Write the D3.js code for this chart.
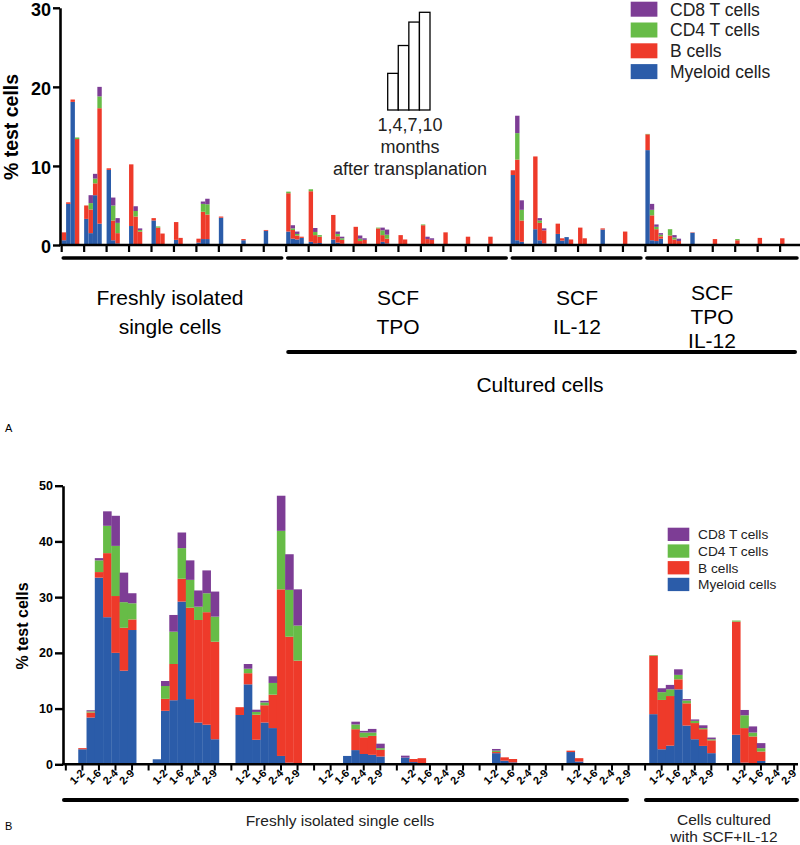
<!DOCTYPE html>
<html><head><meta charset="utf-8">
<script src="https://cdn.jsdelivr.net/npm/d3@7"></script>
<style>body{margin:0;background:#fff}svg{display:block;font-family:"Liberation Sans",Arial,sans-serif}</style>
</head><body><svg id="c" width="800" height="845"></svg>
<script>
// ---------- shared ----------
const seriesNames = ["Myeloid cells","B cells","CD4 T cells","CD8 T cells"];
const seriesColors = ["#2b5ca9","#ee3a2a","#67bc47","#7d3d95"];

// ---------- Panel A : 33 groups x 4 time points ----------
const monthsA = ["1","4","7","10"];
const conditionsA = [
  {lines:["Freshly isolated","single cells"], from:0, to:9, cx:170, top:305, gap:28.5},
  {lines:["SCF","TPO"], from:10, to:19, cx:398, top:305, gap:28.5},
  {lines:["SCF","IL-12"], from:20, to:25, cx:577, top:305, gap:28.5},
  {lines:["SCF","TPO","IL-12"], from:26, to:32, cx:712, top:300, gap:24}
];
const aMyeloid = [
 [0.6,5.2,18.1,0],[3.3,1.5,6.3,2.7],[9.5,0.6,0.2,0],[2.4,0,0,0],[3.1,0,0,0],[0.65,0,0,0],[0.3,0.75,0.75,0],[3.45,0,0,0],[0.6,0,0,0],[1.8,0,0,0],
 [1.7,0.8,0.7,0.9],[0.4,0.2,0.25,0],[0.7,0.3,0.15,0],[0.1,0,0.15,0],[0,0.4,0.2,0],[0,0,0,0],[0,0.15,0,0],[0,0,0,0],[0,0,0,0],[0,0,0,0],
 [8.85,0.6,0.4,0],[2.0,0.6,0.2,0],[1.4,0.55,1.0,0],[0,0,0,0],[1.95,0,0,0],[0,0,0,0],
 [12.0,0.6,0.5,0.8],[0,0,0,0],[1.55,0,0,0],[0,0,0,0],[0,0,0,0],[0,0,0,0],[0,0,0,0]];
const aBcells = [
 [1.0,0.2,0.3,13.4],[1.7,3.0,1.5,14.6],[0.2,2.5,1.3,0],[7.8,3.6,1.7,0],[0.3,2.2,1.45,0],[2.25,0.9,0,0],[0.5,3.45,3.1,0],[0.15,0,0,0],[0.15,0,0,0],[0.1,0,0,0],
 [4.85,1.1,0.5,0.15],[6.4,1.05,0.8,0],[3.1,0.8,0.5,0],[2.2,0.5,0.5,0],[2.1,0.85,0.6,0],[1.25,0.7,0,0],[2.5,0.6,0.65,0],[1.6,0,0,0],[1.05,0,0,0],[1.05,0,0,0],
 [0.6,10.2,2.7,0],[9.2,2.2,1.65,0],[1.3,0.3,0,0.7],[2.2,0.85,0,0],[0.15,0,0,0],[1.7,0,0,0],
 [2.0,3.15,1.5,0.3],[1.2,0.7,0.5,0],[0.05,0,0,0],[0.75,0,0,0],[0.6,0,0,0],[0.9,0,0,0],[0.85,0,0,0]];
const aCD4 = [
 [0,0,0,0.2],[0,0.8,0.6,1.5],[0,1.9,1.3,0],[0,0.7,0.2,0],[0,0.15,0,0],[0,0,0,0],[0,1.0,1.3,0],[0,0,0,0],[0,0,0,0],[0,0,0,0],
 [0.2,0.2,0.2,0],[0.25,0.4,0.2,0],[0,0.3,0.2,0],[0,0.3,0,0],[0.1,0.6,0.5,0],[0,0,0,0],[0.1,0,0,0],[0,0,0,0],[0,0,0,0],[0,0,0,0],
 [0,3.35,1.35,0],[0,0.3,0,0],[0,0,0,0],[0,0,0,0],[0,0,0,0],[0,0,0,0],
 [0.05,0.7,0.3,0.2],[0.8,0.25,0,0],[0,0,0,0],[0,0,0,0],[0.15,0,0,0],[0,0,0,0],[0,0,0,0]];
const aCD8 = [
 [0,0,0,0],[0,1.0,0.6,1.2],[0,1.0,0.6,0],[0,0.6,0.2,0],[0,0,0,0],[0,0,0,0],[0,0.3,0.7,0],[0,0,0,0],[0,0,0,0],[0,0,0,0],
 [0,0.4,0.3,0],[0,0.5,0,0],[0,0.3,0.2,0],[0,0.4,0.2,0],[0,0.35,0.65,0],[0,0,0,0],[0,0.3,0.2,0],[0,0,0,0],[0,0,0,0],[0,0,0,0],
 [0,2.2,1.2,0],[0,0.3,0.25,0],[0,0,0,0],[0,0,0,0],[0,0,0,0],[0,0,0,0],
 [0,0.75,0.3,0.2],[0,0.3,0.3,0],[0,0,0,0],[0,0,0,0],[0,0,0,0],[0,0,0,0],[0,0,0,0]];
const yTicksA = [0,10,20,30];

// ---------- Panel B : 9 groups x 8 bars ----------
const pairLabelsB = ["1-2","1-6","2-4","2-9"];
const bMyeloid = [
 [0,2.7,8.4,33.5,26.4,20.0,16.8,24.1],
 [0.9,9.6,11.5,29.2,11.7,7.5,7.1,4.5],
 [8.85,14.35,4.4,7.5,6.5,1.5,0.3,0.2],
 [0,0,0,1.5,2.55,1.85,1.7,1.4],
 [1.2,0.4,0.2,0,0,0,0,0],
 [0,2.0,0.65,0.35,0,0,0,0],
 [2.2,0.5,0,0,0,0,0,0],
 [9.0,2.7,3.35,13.45,6.95,4.5,3.3,2.0],
 [5.3,0.3,0.2,0.6,0,0,0,0]];
const bBcells = [
 [0,0.2,0.9,1.0,11.5,10.2,7.7,1.9],
 [0,2.15,6.5,4.1,16.4,18.4,20.2,17.5],
 [1.4,2.0,4.5,3.1,6.0,29.9,22.6,18.4],
 [0,0,0,0,3.75,3.0,3.4,1.2],
 [0,0.55,0.9,0,0,0,0,0],
 [0,0.2,0.6,0.6,0,0,0,0],
 [0.25,0.6,0,0,0,0,0,0],
 [10.5,8.85,8.9,1.8,4.0,2.9,3.0,2.3],
 [20.3,6.2,4.8,1.7,0,0,0,0]];
const bCD4 = [
 [0,0,0.2,2.1,4.9,9.0,4.6,2.9],
 [0,2.3,5.8,5.5,5.0,2.4,3.4,4.5],
 [0,0.8,0.5,0.5,2.1,10.5,8.4,6.3],
 [0,0,0,0,0.85,0.85,0.6,0.3],
 [0,0,0,0,0,0,0,0],
 [0,0.25,0,0,0,0,0,0],
 [0,0,0,0,0,0,0,0],
 [0.1,1.4,1.2,0.8,0.5,0.4,0.2,0.2],
 [0.2,2.3,0.7,0.6,0,0,0,0]];
const bCD8 = [
 [0,0,0.2,0.4,2.6,5.4,5.3,1.8],
 [0,0.9,3.0,2.8,3.5,2.9,4.1,4.5],
 [0,0.85,0.4,0.3,1.2,6.3,6.4,6.5],
 [0,0,0,0,0.5,0.3,0.65,0.8],
 [0.35,0,0,0,0,0,0,0],
 [0,0.3,0,0,0,0,0,0],
 [0,0,0,0,0,0,0,0],
 [0,0.7,0.8,1.0,0.25,0.25,0.5,0.3],
 [0,0.95,1.1,0.9,0,0,0,0]];
const yTicksB = [0,10,20,30,40,50];

// =====================================================
const svg = d3.select("#c");
const keys = ["my","b","cd4","cd8"];
const color = d3.scaleOrdinal(keys, seriesColors);

// ---------------- Panel A ----------------
const gA = svg.append("g");
const nA = aMyeloid.length;
const xA = d3.scaleBand(d3.range(nA), [61.7, 61.7 + nA*22.45]);
const xSubA = d3.scaleBand(monthsA, [0, 17.6]);
const yA = d3.scaleLinear([0,30],[245,7.8]);

const rowsA = [];
for (let g=0; g<nA; g++) monthsA.forEach((m,i)=>rowsA.push({g, m, my:aMyeloid[g][i], b:aBcells[g][i], cd4:aCD4[g][i], cd8:aCD8[g][i]}));
const stackA = d3.stack().keys(keys)(rowsA);
gA.selectAll("g.s").data(stackA).join("g").attr("fill", d=>color(d.key))
  .selectAll("rect").data(d=>d.filter(p=>p[1]-p[0]>0)).join("rect")
  .attr("x", p=>xA(p.data.g)+xSubA(p.data.m))
  .attr("width", xSubA.bandwidth())
  .attr("y", p=>yA(p[1]))
  .attr("height", p=>yA(p[0])-yA(p[1]));

// y axis A
const axA = gA.append("g").attr("transform","translate(60,0)")
  .call(d3.axisLeft(yA).tickValues(yTicksA).tickSize(7).tickSizeOuter(0).tickPadding(2));
axA.select(".domain").attr("stroke","#000").attr("stroke-width",2.6);
axA.selectAll(".tick line").attr("stroke-width",2.4);
axA.selectAll("text").attr("font-size",18).attr("font-weight","bold").attr("fill","#000").attr("dy","0.4em")
  .attr("font-family","Liberation Sans, Arial, sans-serif");
gA.append("text").attr("transform","translate(18,127) rotate(-90)").attr("text-anchor","middle")
  .attr("font-size",19.5).attr("font-weight","bold").text("% test cells");
// x axis A
gA.append("line").attr("x1",59).attr("x2",800).attr("y1",245).attr("y2",245).attr("stroke","#000").attr("stroke-width",2.6);
gA.selectAll("line.tk").data(d3.range(nA)).join("line").attr("class","tk")
  .attr("x1",d=>xA(d)).attr("x2",d=>xA(d)).attr("y1",245).attr("y2",252).attr("stroke","#000").attr("stroke-width",2.2);
// brackets + labels
conditionsA.forEach(c=>{
  const x1 = xA(c.from)+1.5, x2 = Math.min(xA(c.to)+18, 797);
  gA.append("line").attr("x1",x1).attr("x2",x2).attr("y1",258).attr("y2",258)
    .attr("stroke","#000").attr("stroke-width",3.5).attr("stroke-linecap","round");
  c.lines.forEach((t,i)=>gA.append("text").attr("x",c.cx).attr("y",c.top+i*c.gap).attr("text-anchor","middle")
    .attr("font-size",21).text(t));
});
gA.append("line").attr("x1",xA(conditionsA[1].from)+2).attr("x2",795).attr("y1",352).attr("y2",352)
  .attr("stroke","#000").attr("stroke-width",4).attr("stroke-linecap","round");
gA.append("text").attr("x",540).attr("y",392).attr("text-anchor","middle").attr("font-size",21).text("Cultured cells");
gA.append("text").attr("x",5).attr("y",432).attr("font-size",11).text("A");

// inset schematic
const insetRel = [0.375,0.66,0.9,1.0];
const xIn = d3.scaleBand(monthsA,[387.7,430]);
const yIn = d3.scaleLinear([0,1],[110,12.3]);
gA.selectAll("rect.in").data(insetRel).join("rect").attr("class","in")
  .attr("x",(d,i)=>xIn(monthsA[i])).attr("width",xIn.bandwidth()).attr("y",d=>yIn(d)).attr("height",d=>110-yIn(d))
  .attr("fill","#fff").attr("stroke","#000").attr("stroke-width",1.3);
["1,4,7,10","months","after transplanation"].forEach((t,i)=>gA.append("text").attr("x",410).attr("y",131+i*22)
  .attr("text-anchor","middle").attr("font-size",18).attr("fill","#222").text(t));

// legend A
const legOrder = [3,2,1,0];
legOrder.forEach((k,i)=>{
  gA.append("rect").attr("x",630.7).attr("y",1.7+i*20.8).attr("width",26.7).attr("height",15).attr("fill",seriesColors[k]);
  gA.append("text").attr("x",670).attr("y",15.5+i*20.8).attr("font-size",17.5).attr("fill","#222").text(seriesNames[k]);
});

// ---------------- Panel B ----------------
const gB = svg.append("g");
const slotKeys = ["pre"];
bMyeloid.forEach((grp,g)=>{ const n = g===bMyeloid.length-1 ? 8 : 10; for(let s=0;s<n;s++) slotKeys.push(g+"_"+s); });
const xB = d3.scaleBand(slotKeys,[61.7,798.2]);
const yB = d3.scaleLinear([0,50],[764.3,485.7]);
const rowsB = [];
bMyeloid.forEach((grp,g)=>grp.forEach((v,s)=>rowsB.push({key:g+"_"+s, my:bMyeloid[g][s], b:bBcells[g][s], cd4:bCD4[g][s], cd8:bCD8[g][s]})));
const stackB = d3.stack().keys(keys)(rowsB);
gB.selectAll("g.s").data(stackB).join("g").attr("fill", d=>color(d.key))
  .selectAll("rect").data(d=>d.filter(p=>p[1]-p[0]>0)).join("rect")
  .attr("x", p=>xB(p.data.key)).attr("width", xB.bandwidth()+0.3)
  .attr("y", p=>yB(p[1])).attr("height", p=>yB(p[0])-yB(p[1]));

const axB = gB.append("g").attr("transform","translate(63,0)")
  .call(d3.axisLeft(yB).tickValues(yTicksB).tickSize(8).tickSizeOuter(0).tickPadding(2));
axB.select(".domain").attr("stroke","#000").attr("stroke-width",2.6);
axB.selectAll(".tick line").attr("stroke-width",2.4);
axB.selectAll("text").attr("font-size",12.5).attr("font-weight","bold").attr("fill","#000").attr("font-family","Liberation Sans, Arial, sans-serif");
gB.append("text").attr("transform","translate(28,626) rotate(-90)").attr("text-anchor","middle")
  .attr("font-size",16).attr("font-weight","bold").text("% test cells");

gB.append("line").attr("x1",62).attr("x2",798).attr("y1",764.3).attr("y2",764.3).attr("stroke","#000").attr("stroke-width",2.6);
const tickSlots = slotKeys.filter(k=>k==="pre" || (+k.split("_")[1])%2===1);
gB.selectAll("line.tk").data(tickSlots).join("line").attr("class","tk")
  .attr("x1",k=>xB(k)+xB.bandwidth()/2).attr("x2",k=>xB(k)+xB.bandwidth()/2)
  .attr("y1",764.3).attr("y2",770.5).attr("stroke","#000").attr("stroke-width",2);
const labSlots = slotKeys.filter(k=>k!=="pre" && (+k.split("_")[1])%2===1 && +k.split("_")[1]<8);
gB.selectAll("text.xl").data(labSlots).join("text").attr("class","xl")
  .attr("transform",k=>`translate(${xB(k)+xB.bandwidth()/2+3},${774}) rotate(-45)`)
  .attr("text-anchor","end").attr("font-size",11).attr("font-weight","bold")
  .text(k=>pairLabelsB[(+k.split("_")[1]-1)/2]);

gB.append("line").attr("x1",64).attr("x2",627).attr("y1",800).attr("y2",800).attr("stroke","#000").attr("stroke-width",4).attr("stroke-linecap","round");
gB.append("line").attr("x1",646).attr("x2",797).attr("y1",800).attr("y2",800).attr("stroke","#000").attr("stroke-width",4).attr("stroke-linecap","round");
gB.append("text").attr("x",340).attr("y",826).attr("text-anchor","middle").attr("font-size",15.5).attr("fill","#222").text("Freshly isolated single cells");
gB.append("text").attr("x",724).attr("y",825).attr("text-anchor","middle").attr("font-size",15.5).attr("fill","#222").text("Cells cultured");
gB.append("text").attr("x",724).attr("y",842).attr("text-anchor","middle").attr("font-size",15.5).attr("fill","#222").text("with SCF+IL-12");
gB.append("text").attr("x",5).attr("y",830).attr("font-size",11).text("B");

legOrder.forEach((k,i)=>{
  gB.append("rect").attr("x",667.7).attr("y",527.7+i*16.7).attr("width",21.6).attr("height",13.3).attr("fill",seriesColors[k]);
  gB.append("text").attr("x",698).attr("y",539.2+i*16.7).attr("font-size",13.7).attr("fill","#222").text(seriesNames[k]);
});
</script></body></html>
